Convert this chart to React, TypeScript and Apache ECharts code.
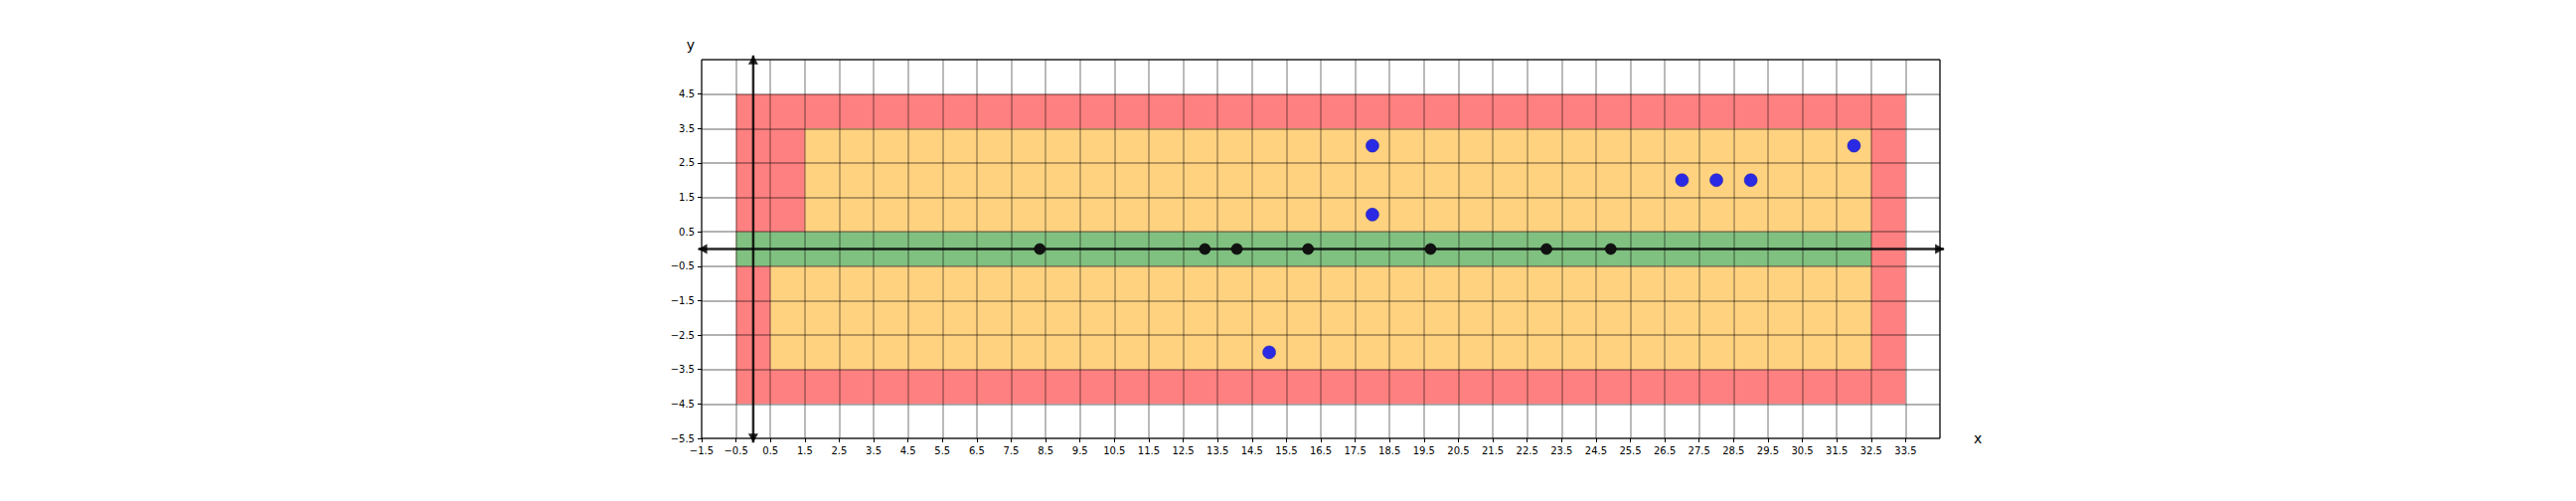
import React, { useEffect, useRef } from "react";
import * as echarts from "echarts";

// Axis ranges (original coordinates); ticks sit on the half-integers
const xMin = -1.5;
const xMax = 34.5;
const yMin = -5.5;
const yMax = 5.5;

// Coloured regions (original coordinates)
const regionX0 = [-0.5, 1.5, 0.5, -0.5];
const regionX1 = [33.5, 32.5, 32.5, 32.5];
const regionY0 = [-4.5, 0.5, -3.5, -0.5];
const regionY1 = [4.5, 3.5, -0.5, 0.5];
const regionColors = ["#FF8080", "#FFD280", "#FFD280", "#80C080"];

// Points on the x axis (black)
const blackX = [8.33, 13.13, 14.06, 16.13, 19.69, 23.06, 24.93];
const blackY = [0, 0, 0, 0, 0, 0, 0];

// Blue points
const blueX = [18, 18, 15, 27, 28, 29, 32];
const blueY = [3, 1, -3, 2, 2, 2, 3];

// Axis arrows (start -> end tips, arrowheads on both ends)
const arrowX0 = [-1.6, 0];
const arrowY0 = [0, -5.62];
const arrowX1 = [34.62, 0];
const arrowY1 = [0, 5.62];

const FONT = "DejaVu Sans";

const sx = (v: number) => v - xMin;
const sy = (v: number) => v - yMin;
const fmt = (v: number) => v.toFixed(1).replace("-", "\u2212");

export default function App() {
  const ref = useRef<HTMLDivElement>(null);

  useEffect(() => {
    if (!ref.current) return;
    const chart = echarts.init(ref.current, undefined, { renderer: "svg" });

    const regions = regionX0.map((x0, i) => [
      sx(x0),
      sy(regionY0[i]),
      sx(regionX1[i]),
      sy(regionY1[i]),
      i,
    ]);
    const arrows = arrowX0.map((x0, i) => [
      sx(x0),
      sy(arrowY0[i]),
      sx(arrowX1[i]),
      sy(arrowY1[i]),
    ]);

    const arrowHead = (tip: number[], from: number[], len: number, half: number) => {
      const dx = tip[0] - from[0];
      const dy = tip[1] - from[1];
      const d = Math.sqrt(dx * dx + dy * dy) || 1;
      const ux = dx / d;
      const uy = dy / d;
      const bx = tip[0] - ux * len;
      const by = tip[1] - uy * len;
      return [
        [tip[0], tip[1]],
        [bx - uy * half, by + ux * half],
        [bx + uy * half, by - ux * half],
      ];
    };

    chart.setOption({
      animation: false,
      backgroundColor: "#fff",
      grid: {
        left: 706,
        top: 60,
        width: 1246,
        height: 381,
        show: true,
        borderColor: "#000",
        borderWidth: 1,
        backgroundColor: "transparent",
      },
      xAxis: {
        type: "value",
        min: 0,
        max: sx(xMax),
        interval: 1,
        z: 3,
        name: "x",
        nameLocation: "end",
        nameGap: 34,
        nameTextStyle: { fontSize: 14, fontFamily: FONT, color: "#000", verticalAlign: "middle" },
        axisLine: { show: false },
        axisTick: { show: true, length: 4, lineStyle: { color: "#000", width: 1 } },
        axisLabel: {
          fontSize: 10,
          fontFamily: FONT,
          color: "#000",
          margin: 7,
          showMaxLabel: false,
          formatter: (v: number) => (v >= sx(xMax) - 1e-9 ? "" : fmt(v + xMin)),
        },
        splitLine: { show: true, lineStyle: { color: "rgba(0,0,0,0.3)", width: 1.8 } },
      },
      yAxis: {
        type: "value",
        min: 0,
        max: sy(yMax),
        interval: 1,
        z: 3,
        axisLine: { show: false },
        axisTick: { show: true, length: 4, lineStyle: { color: "#000", width: 1 } },
        axisLabel: {
          fontSize: 10,
          fontFamily: FONT,
          color: "#000",
          margin: 7,
          showMaxLabel: false,
          formatter: (v: number) => (v >= sy(yMax) - 1e-9 ? "" : fmt(v + yMin)),
        },
        splitLine: { show: true, lineStyle: { color: "rgba(0,0,0,0.3)", width: 1.8 } },
      },
      graphic: [
        {
          type: "text",
          x: 695,
          y: 45,
          style: {
            text: "y",
            fontSize: 14,
            fontFamily: FONT,
            fill: "#000",
            textAlign: "center",
            textVerticalAlign: "middle",
          },
        },
      ],
      series: [
        {
          type: "custom",
          z: 1,
          clip: false,
          silent: true,
          data: regions,
          renderItem: (params: any, api: any) => {
            const p0 = api.coord([api.value(0), api.value(1)]);
            const p1 = api.coord([api.value(2), api.value(3)]);
            const idx = api.value(4);
            return {
              type: "rect",
              shape: {
                x: Math.min(p0[0], p1[0]),
                y: Math.min(p0[1], p1[1]),
                width: Math.abs(p1[0] - p0[0]),
                height: Math.abs(p1[1] - p0[1]),
              },
              style: { fill: regionColors[idx], stroke: null },
            };
          },
        },
        {
          type: "custom",
          z: 8,
          clip: false,
          silent: true,
          data: arrows,
          renderItem: (params: any, api: any) => {
            const a = api.coord([api.value(0), api.value(1)]);
            const b = api.coord([api.value(2), api.value(3)]);
            const col = "rgba(0,0,0,0.85)";
            return {
              type: "group",
              children: [
                {
                  type: "line",
                  shape: { x1: a[0], y1: a[1], x2: b[0], y2: b[1] },
                  style: { stroke: col, lineWidth: 2.5 },
                },
                {
                  type: "polygon",
                  shape: { points: arrowHead(b, a, 9, 5) },
                  style: { fill: col },
                },
                {
                  type: "polygon",
                  shape: { points: arrowHead(a, b, 9, 5) },
                  style: { fill: col },
                },
              ],
            };
          },
        },
        {
          type: "scatter",
          z: 10,
          symbolSize: 11,
          data: blackX.map((x, i) => [sx(x), sy(blackY[i])]),
          itemStyle: { color: "#111111", borderColor: "#000", borderWidth: 0.5, opacity: 1 },
        },
        {
          type: "scatter",
          z: 10,
          symbolSize: 13,
          data: blueX.map((x, i) => [sx(x), sy(blueY[i])]),
          itemStyle: { color: "#2A2AE4", borderColor: "#1A1AA0", borderWidth: 0.5, opacity: 1 },
        },
      ],
    });

    return () => chart.dispose();
  }, []);

  return (
    <div
      ref={ref}
      style={{ position: "absolute", left: 0, top: 0, width: 2592, height: 504 }}
    />
  );
}
